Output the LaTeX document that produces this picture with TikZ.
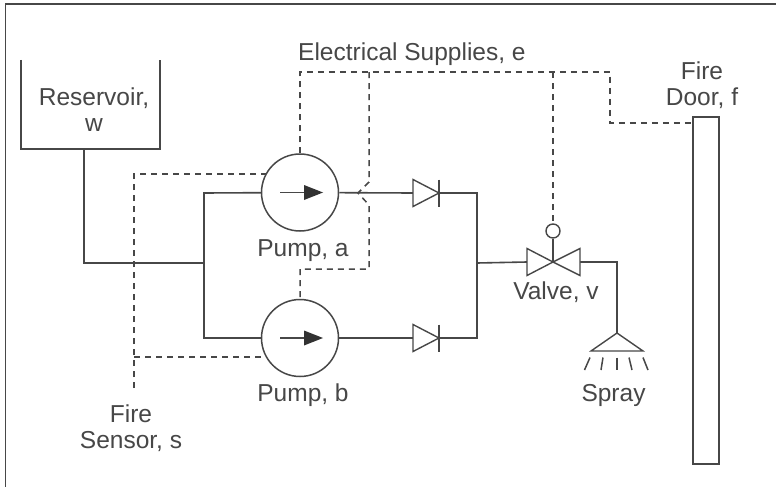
\documentclass[tikz,border=0pt]{standalone}
\usepackage{fontspec}
\setmainfont{Liberation Sans}
\definecolor{ink}{gray}{0.28}
\tikzset{
  x=1pt,y=-1pt,
  pipe/.style={draw=ink,line width=1.6pt},
  sig/.style={draw=ink,line width=1.5pt,dash pattern=on 6pt off 5pt},
  sym/.style={draw=ink,line width=1.4pt,fill=white,line join=miter},
  lab/.style={text=ink,font=\fontsize{24.5}{26}\selectfont,align=center,inner sep=0pt},
  pumpc/.style={circle,draw=ink,line width=1.5pt,minimum size=77pt,inner sep=0pt},
  lamp/.style={circle,draw=ink,line width=1.4pt,minimum size=14pt,inner sep=0pt},
  frame/.style={draw=ink,line width=1.5pt},
}
\begin{document}
\begin{tikzpicture}
\useasboundingbox (0,0) rectangle (776,487);
\fill[white] (0,0) rectangle (776,487);
\draw[frame] (5.5,487) -- (5.5,4) -- (776,4);
% named points
\coordinate (resTL) at (21,60);
\coordinate (resBL) at (21,149);
\coordinate (resBR) at (160,149);
\coordinate (resTR) at (160,60);
\coordinate (resOut) at (84,149);
\coordinate (split) at (204,263);
\coordinate (splitA) at (204,193);
\coordinate (splitB) at (204,338);
\coordinate (mergeA) at (477,193);
\coordinate (mergeB) at (477,338);
\coordinate (merge) at (477,263);
\node[pumpc] (pa) at (300,192.5) {};
\node[pumpc] (pb) at (300,338) {};
\coordinate (da) at (413,193);
\coordinate (dat) at (439,193);
\coordinate (db) at (413,338);
\coordinate (dbt) at (439,338);
\coordinate (vc) at (553,262);
\coordinate (vl) at (527,262);
\coordinate (vr) at (580,262);
\node[lamp] (vlamp) at (553,231) {};
\coordinate (sprayBend) at (617,262);
\coordinate (sprayTop) at (617,333);
\coordinate (eTop) at (300,72);
\coordinate (eA) at (369,72);
\coordinate (eV) at (553,72);
\coordinate (eR) at (610,72);
\coordinate (eD) at (610,123);
\coordinate (door) at (693,123);
\coordinate (sT) at (134,174);
\coordinate (sB) at (134,357);
\coordinate (sEnd) at (134,388);
% door and reservoir
\draw[pipe] (resTL) -- (resBL) -- (resBR) -- (resTR);
\draw[pipe] (693,117) rectangle (719,464);
% pipes
\draw[pipe] (resOut) |- (split);
\draw[pipe] (pa) -- (splitA) -- (splitB) -- (pb);
\draw[pipe] (pa) -- (da);
\draw[pipe] (pb) -- (db);
\draw[pipe] (dat) -- (mergeA) -- (mergeB) -- (dbt);
\draw[pipe] (merge) -- (vl);
\draw[pipe] (vr) -- (sprayBend) -- (sprayTop);
% dashed control lines
\draw[sig] (pa.north) -- (eTop) -- (eR) -- (eD) -- (door);
\draw[sig] (eV) -- (vlamp.north);
\draw[sig] (eA) -- (369,182) -- (358,193) -- (369,205) -- (369,269) -- (300,269) -- (pb.north);
\draw[sig] (sEnd) -- (sT) -- (266,174);
\draw[sig] (sB) -- (266,357);
% pump arrows
\foreach \y in {192.5,338} {
  \draw[draw=ink,line width=1.4pt] (280,\y) -- (305,\y);
  \fill[ink!70!black] (304,\y-7.5) -- (323,\y) -- (304,\y+7.5) -- cycle;
}
% check valves
\foreach \y in {193,338} {
  \draw[sym] (413,\y-13.5) -- (439,\y) -- (413,\y+13.5) -- cycle;
  \draw[sym] (439,\y-13.5) -- (439,\y+13.5);
}
% valve
\draw[sym] (vl) ++(0,-13.5) -- (vc) -- (527,275.5) -- cycle;
\draw[sym] (vr) ++(0,-13.5) -- (vc) -- (580,275.5) -- cycle;
\draw[sym] (vlamp.south) -- (vc);
% spray
\draw[sym] (sprayTop) -- (643,351) -- (591,351) -- cycle;
\foreach \a/\b in {590/584.5,603/601,617/617,629/632,643/648}
  \draw[draw=ink,line width=1.5pt] (\a,357.5) -- (\b,370);
% labels
\node[lab,anchor=west] (le) at (298,54) {Electrical Supplies, e};
\node[lab] (lw) at (94,110) {Reservoir,\\w};
\node[lab] (lpa) at (303,251) {Pump, a};
\node[lab] (lpb) at (303,395) {Pump, b};
\node[lab] (ls) at (131,428) {Fire\\Sensor, s};
\node[lab] (lv) at (556,292) {Valve, v};
\node[lab] (lsp) at (613.5,395) {Spray};
\node[lab] (lf) at (702,85) {Fire\\Door, f};
\end{tikzpicture}
\end{document}
